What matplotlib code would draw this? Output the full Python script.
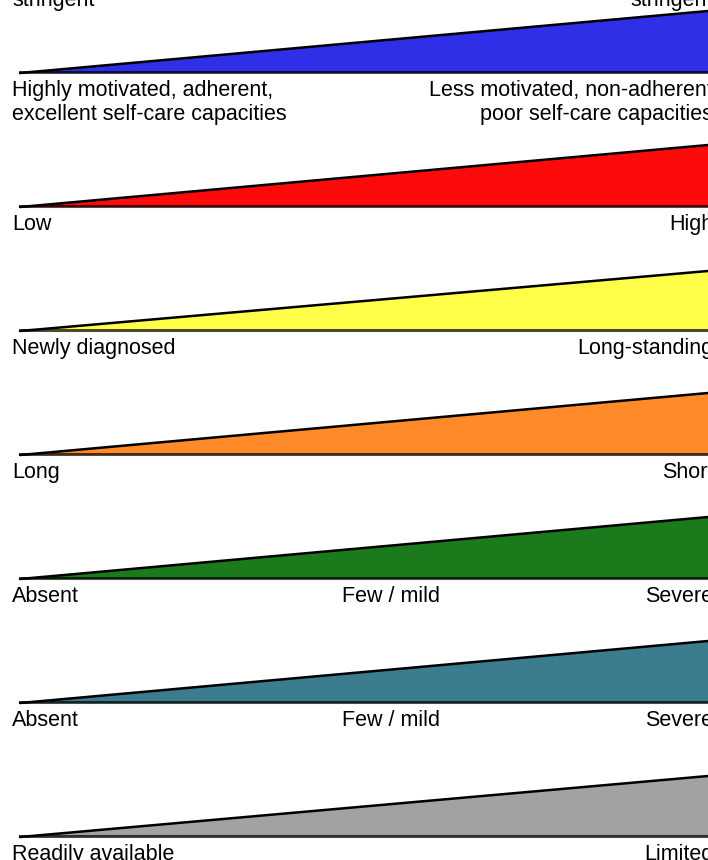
import matplotlib
matplotlib.use("Agg")
import matplotlib.pyplot as plt
from matplotlib.patches import Polygon

# ---- data ----
left_labels = ["Highly motivated, adherent,\nexcellent self-care capacities",
               "Low", "Newly diagnosed", "Long", "Absent", "Absent",
               "Readily available"]
mid_labels = ["", "", "", "", "Few / mild", "Few / mild", ""]
right_labels = ["Less motivated, non-adherent\npoor self-care capacities",
                "High", "Long-standing", "Short", "Severe", "Severe",
                "Limited"]
wedge_colors = ["#2f2fe8", "#ff0a0a", "#ffff4a", "#ff8a2a", "#1b7a1b",
                "#3b7d8e", "#a2a2a2"]
wedge_rise = [62, 62, 60, 62, 62, 62, 61]
top_word = "stringent"

# ---- layout ----
W, H = 708, 860
fig = plt.figure(figsize=(W / 100, H / 100), dpi=100)
ax = fig.add_axes([0, 0, 1, 1])
ax.set_xlim(0, W)
ax.set_ylim(H, 0)
ax.axis("off")

font = "Liberation Sans"
fs = 15.5
bases = [73, 207, 331, 455, 579, 703, 837]
x0, x1 = 20, 720

for i, (lab_l, lab_m, lab_r, col, rise) in enumerate(
        zip(left_labels, mid_labels, right_labels, wedge_colors, wedge_rise)):
    yb = bases[i]
    slope = rise / (708 - x0)
    ytop = yb - slope * (x1 - x0)
    poly = Polygon([[x0, yb], [x1, ytop], [x1, yb]], closed=True,
                   facecolor=col, edgecolor="none")
    ax.add_patch(poly)
    ax.plot([x0, x1], [yb, ytop], color="black", lw=1.8,
            solid_capstyle="round")
    ax.plot([x0, x1], [yb - 1, yb - 1], color="black", lw=2.2, alpha=0.7)
    ty = yb + 7
    ax.text(12, ty, lab_l, ha="left", va="top", fontsize=fs,
            family=font, linespacing=1.2)
    if lab_m:
        ax.text(391, ty, lab_m, ha="center", va="top", fontsize=fs,
                family=font)
    ax.text(713, ty, lab_r, ha="right", va="top", fontsize=fs,
            family=font, linespacing=1.2, multialignment="right")

ax.text(12, 6, top_word, ha="left", va="baseline", fontsize=fs, family=font)
ax.text(713, 6, top_word, ha="right", va="baseline", fontsize=fs, family=font)

fig.savefig("out.png", dpi=100)
